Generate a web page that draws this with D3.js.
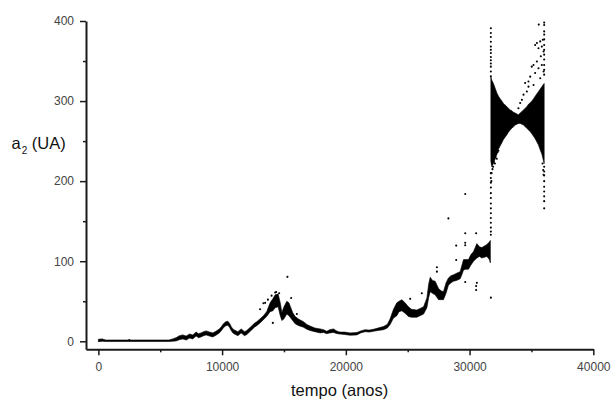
<!DOCTYPE html>
<html>
<head>
<meta charset="utf-8">
<script src="https://cdn.jsdelivr.net/npm/d3@7"></script>
<style>
  html, body { margin: 0; padding: 0; background: #fff; }
  svg { display: block; font-family: "Liberation Sans", Arial, sans-serif; }
</style>
</head>
<body>
<svg id="chart" width="611" height="400"></svg>
<script>
// Semi-major axis a2 (UA) versus time (years)

// Axis ticks
const xMajor = [0, 10000, 20000, 30000, 40000];
const xMinor = [5000, 15000, 25000, 35000];
const yMajor = [0, 100, 200, 300, 400];
const yMinor = [50, 150, 250, 350];

// Early evolution: spread of a2 (lower / upper) at each time
const runT  = [0, 300, 600, 2500, 5700, 6000, 6280, 6550, 6820, 7100, 7360, 7630, 7900, 8100, 8300, 8500, 8710, 8980, 9250, 9500, 9780, 9950, 10110, 10300, 10460, 10600, 10730, 10870, 11000, 11270, 11540, 11700, 11800, 12000, 12210, 12410, 12610, 12800, 13070, 13340, 13600, 13880, 14100, 14290, 14530, 14700, 14830, 15000, 15230, 15400, 15500, 15700, 15900, 16200, 16580, 16850, 17110, 17500, 17920, 18200, 18460, 18700, 19000, 19300, 19540, 19900, 20350, 20890, 21200, 21560, 21900, 22230, 22600, 23040, 23350, 23580, 23850, 24120, 24300, 24530, 24790, 25060, 25300, 25740, 26000, 26280, 26550, 26700, 26820, 27000, 27220, 27490, 27700, 27890, 28100, 28290, 28500, 28700, 28950, 29240, 29400, 29510, 29700, 29910, 30100, 30320, 30590, 30800, 30990, 31200, 31400, 31600, 31680];
const runLo = [-0.5, 0, -0.3, -0.3, -0.3, 0, 0.5, 2, 3, 1.5, 4, 3, 6.5, 4.5, 5.5, 7, 8, 6.5, 5.5, 7.5, 10.5, 13.5, 17, 19.5, 20, 17.5, 13.5, 10.5, 9, 7, 10.5, 8.5, 7, 8.5, 11.5, 14.5, 17.5, 19.5, 23, 27, 31, 37, 38, 42, 43, 32, 26, 28, 34, 32, 30, 26, 22, 19.5, 17.5, 15, 13.5, 12, 10.5, 11, 9.5, 10.5, 11, 9.5, 9, 8.5, 7.5, 8, 10.5, 12, 11.5, 12.5, 13.5, 14.5, 16.5, 21, 29, 32, 37, 38, 35, 31, 30, 30, 32, 34, 42, 55, 62, 60, 58, 52, 52, 52, 60, 70, 73, 75, 76, 78, 84, 89, 90, 90, 95, 100, 104, 106, 104, 105, 106, 102, 98];
const runHi = [2.5, 3, 1.6, 1.6, 1.6, 3, 4.5, 7, 8, 6.5, 9, 8, 11.5, 9.5, 10.5, 12, 13, 11.5, 10.5, 12.5, 15.5, 18.5, 22, 24.5, 25, 22.5, 18.5, 15.5, 14, 12, 15.5, 13.5, 12, 13.5, 16.5, 19.5, 22.5, 24.5, 28, 32, 37, 48, 53, 58, 59, 48, 36, 43, 50, 48, 44, 36, 31, 27.5, 24.5, 21, 19, 16.5, 15.5, 14.5, 12.5, 14.5, 15.5, 12.5, 11.5, 11.5, 10.5, 11, 13, 14.5, 14, 15, 16.5, 18.5, 21, 28, 40, 48, 50, 52, 48, 43, 40, 39, 41, 43, 54, 72, 80, 76, 75, 66, 63, 62, 73, 79, 82, 83, 85, 87, 96, 102, 102, 102, 108, 112, 122, 118, 117, 119, 121, 124, 126];

// Late evolution: the wide oscillating band after the jump
const bandT  = [31720, 31800, 31930, 32070, 32210, 32340, 32470, 32610, 32740, 32880, 33020, 33140, 33280, 33420, 33550, 33690, 33820, 33950, 34090, 34230, 34360, 34490, 34630, 34760, 34900, 35040, 35170, 35300, 35440, 35570, 35710, 35840, 35930, 36030];
const bandLo = [225, 218, 222, 228, 234, 240, 244, 248, 252, 255, 258, 261, 264, 266, 268, 270, 271, 272, 272, 271, 270, 268, 266, 264, 262, 259, 256, 253, 249, 245, 239, 234, 228, 222];
const bandHi = [330, 326, 322, 316, 310, 306, 303, 300, 297, 295, 293, 291, 289, 288, 286, 285, 284, 283, 285, 287, 289, 291, 293, 296, 298, 300, 303, 306, 309, 312, 315, 318, 320, 322];

// Isolated samples
const dotT = [
  2500,
  13070, 13340, 13480, 13700, 14000, 14100, 14290, 14370, 14610, 15280, 15580, 16040,
  25200, 26140, 27360, 27360, 28290, 28920, 28920, 29650, 29650, 29650, 29650, 29650, 30530, 30530, 30530, 30590, 31720,
  31720, 31720, 31720, 31720, 31720, 31720, 31720, 31720, 31720, 31720, 31720, 31720, 31720, 31720,
  31720, 31720, 31720, 31720, 31720, 31720, 31720, 31720, 31720, 31720, 31720, 31720, 31720,
  31760, 31780, 31830, 31850, 31900, 31960, 32000, 32050, 32100, 32150, 32200, 32260, 32330,
  36030, 36030, 36030, 36030, 36030, 36030, 36030, 36030, 36030, 36030, 36030, 36030,
  36030, 36030, 36030, 36030, 36030, 36030, 36030, 36030, 36030,
  35900, 35950, 35980,
  35590, 35920, 35710, 35440, 35840, 35570, 35300, 35980, 35760, 35440, 35170, 35840, 35030, 35570, 35980, 35300, 34900, 35710, 34760, 34490, 35170, 34760, 34630, 34360, 34230, 34090, 33950
];
const dotA = [
  1.5,
  40, 47.5, 48, 52, 57, 23, 61, 61.5, 60, 80.5, 54, 34,
  53, 60, 92.5, 87, 153.5, 119.5, 101.5, 184, 135, 120, 123, 74, 135, 69, 64, 73, 54.5,
  133, 137, 142, 148, 154, 160, 166, 172, 179, 185, 192, 198, 204, 210,
  331, 337, 343, 347, 351, 355, 360, 364, 368, 374, 380, 385, 391,
  200, 210, 222, 215, 218, 224, 228, 222, 230, 234, 228, 236, 238,
  333, 339, 345, 352, 358, 364, 370, 377, 383, 387, 395, 398,
  218, 212, 207, 200, 193, 187, 181, 175, 166,
  222, 214, 208,
  395.5, 376.5, 374.5, 372.5, 368, 366, 370, 362, 356, 349.5, 345, 345, 343, 341, 337, 335, 330.5, 328.5, 324.5, 322.5, 320, 318, 312, 308, 301.5, 297.5, 291
];

const svg = d3.select("#chart");

const x = d3.scaleLinear().domain([-1000, 40000]).range([86, 593.3]);
const y = d3.scaleLinear().domain([-10, 400]).range([349.3, 21]);

const plot = svg.append("g");

const area = d3.area()
  .x(d => x(d.t))
  .y0(d => y(d.lo))
  .y1(d => y(d.hi));

const run = runT.map((t, i) => ({ t, lo: runLo[i], hi: runHi[i] }));
const band = bandT.map((t, i) => ({ t, lo: bandLo[i], hi: bandHi[i] }));

plot.append("path")
  .datum(run)
  .attr("d", area)
  .attr("fill", "#000")
  .attr("stroke", "#000")
  .attr("stroke-width", 0.6)
  .attr("stroke-linejoin", "round");

plot.append("path")
  .datum(band)
  .attr("d", area)
  .attr("fill", "#000")
  .attr("stroke", "#000")
  .attr("stroke-width", 0.6);

plot.selectAll("circle.pt")
  .data(dotT.map((t, i) => ({ t, a: dotA[i] })))
  .join("circle")
  .attr("class", "pt")
  .attr("cx", d => x(d.t))
  .attr("cy", d => y(d.a))
  .attr("r", 1.05)
  .attr("fill", "#000");

// Axes
const axisColor = "#1a1a1a";
const labelColor = "#444";

function styleAxis(g) {
  g.select(".domain").attr("stroke", axisColor).attr("stroke-width", 2);
  g.selectAll(".tick line").attr("stroke", axisColor).attr("stroke-width", 1.5);
  g.selectAll(".tick text")
    .attr("fill", labelColor)
    .style("font-size", "12px")
    .style("font-family", "'Liberation Sans', Arial, sans-serif");
}

const xAxisY = 349.3;
svg.append("g")
  .attr("transform", `translate(0,${xAxisY})`)
  .call(d3.axisBottom(x).tickValues(xMinor).tickSize(3).tickSizeOuter(0).tickFormat(""))
  .call(g => { g.select(".domain").remove(); g.selectAll(".tick line").attr("stroke", axisColor).attr("stroke-width", 1.5); });
svg.append("g")
  .attr("transform", `translate(0,${xAxisY})`)
  .call(d3.axisBottom(x).tickValues(xMajor).tickSize(6).tickSizeOuter(0).tickPadding(7).tickFormat(d3.format("d")))
  .call(styleAxis);

const yAxisX = 86;
svg.append("g")
  .attr("transform", `translate(${yAxisX},0)`)
  .call(d3.axisLeft(y).tickValues(yMinor).tickSize(3).tickSizeOuter(0).tickFormat(""))
  .call(g => { g.select(".domain").remove(); g.selectAll(".tick line").attr("stroke", axisColor).attr("stroke-width", 1.5); });
svg.append("g")
  .attr("transform", `translate(${yAxisX},0)`)
  .call(d3.axisLeft(y).tickValues(yMajor).tickSize(6).tickSizeOuter(0).tickPadding(6).tickFormat(d3.format("d")))
  .call(styleAxis);

// Axis titles
svg.append("text")
  .attr("x", (x.range()[0] + x.range()[1]) / 2)
  .attr("y", 396)
  .attr("text-anchor", "middle")
  .attr("fill", "#111")
  .style("font-size", "16.5px")
  .text("tempo (anos)");

const yTitle = svg.append("text")
  .attr("x", 11.5)
  .attr("y", 149)
  .attr("fill", "#111")
  .style("font-size", "16.5px");
yTitle.append("tspan").text("a");
yTitle.append("tspan").attr("dy", 5).attr("dx", 1).style("font-size", "10px").text("2");
yTitle.append("tspan").attr("dy", -5).text(" (UA)");
</script>
</body>
</html>
